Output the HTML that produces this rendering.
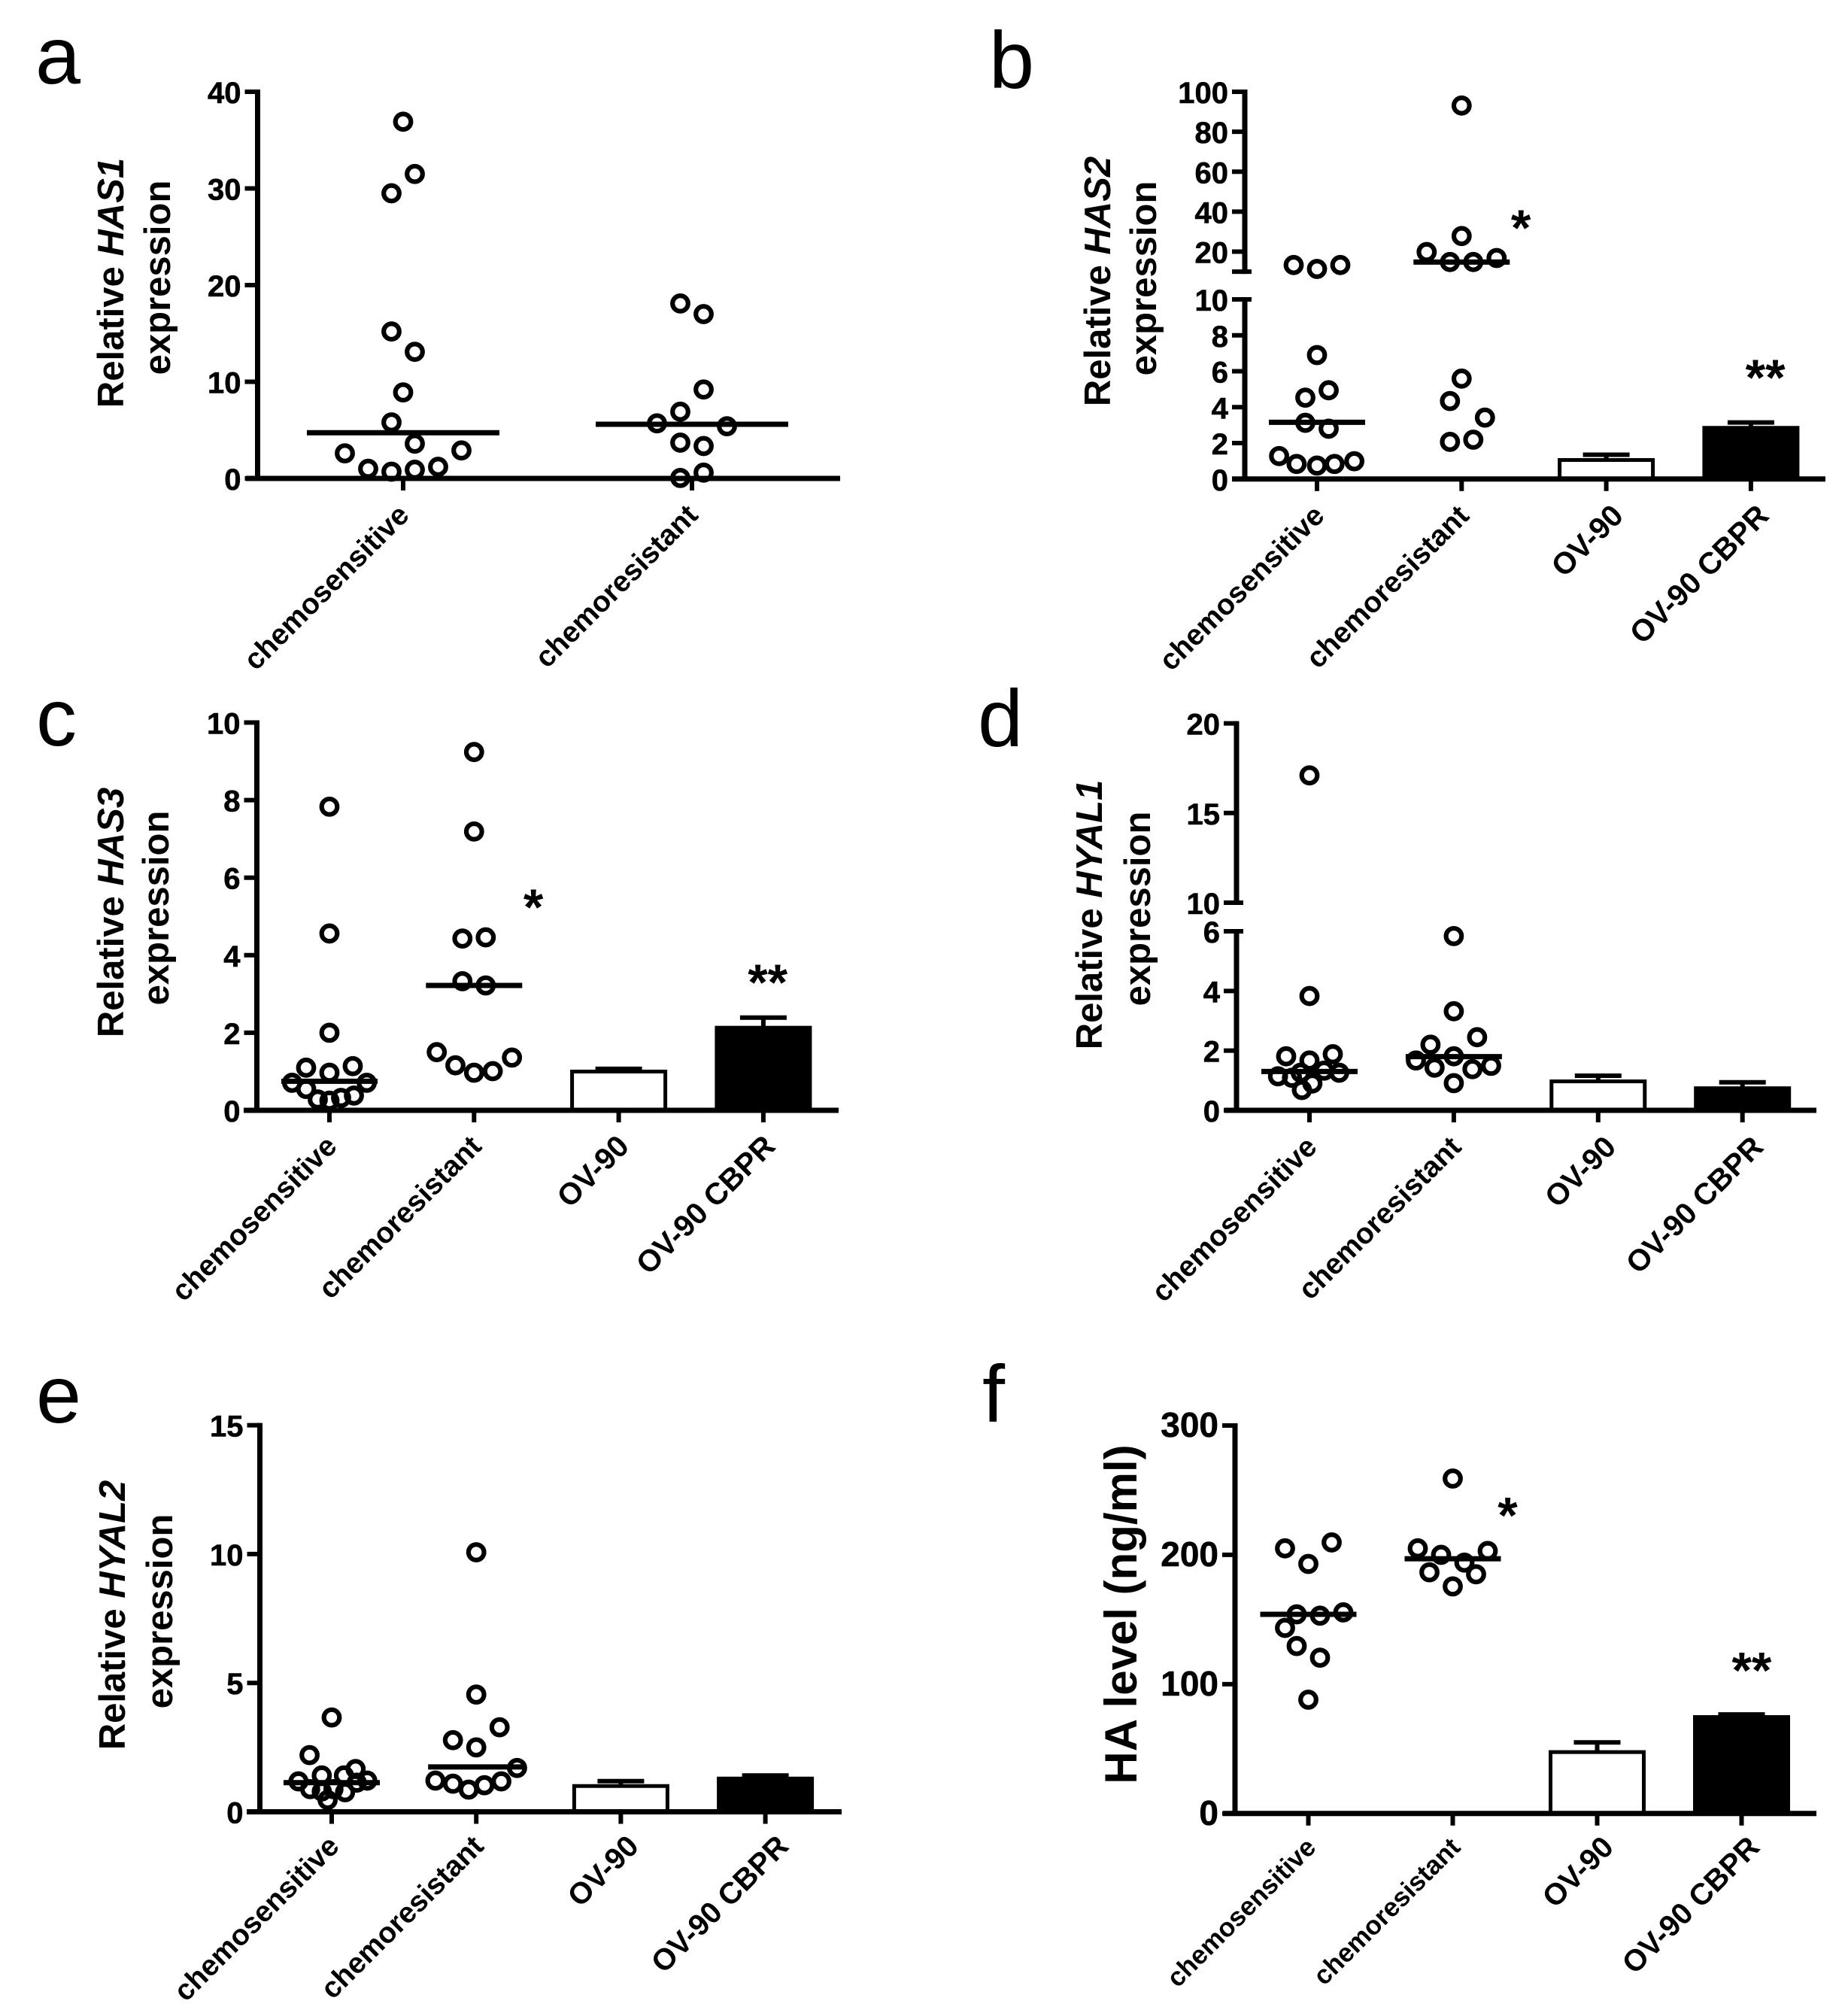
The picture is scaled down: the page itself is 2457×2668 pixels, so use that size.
<!DOCTYPE html>
<html lang="en">
<head>
<meta charset="utf-8">
<title>Hyaluronan synthase and hyaluronidase expression panels</title>
<style>
html,body{margin:0;padding:0;background:#fff;}
svg{display:block;}
text{font-family:"Liberation Sans",sans-serif;fill:#000;}
.tick-label{font-weight:700;font-size:40px;text-anchor:end;stroke:#000;stroke-width:0.6px;}
.x-label{font-weight:700;text-anchor:end;}
.title{font-weight:700;text-anchor:middle;}
.letter{font-size:108px;}
.star{font-size:68px;font-weight:700;text-anchor:middle;}
</style>
</head>
<body>
<svg id="figure" xmlns="http://www.w3.org/2000/svg" width="2457" height="2668" viewBox="0 0 2457 2668">
<rect x="0" y="0" width="2457" height="2668" fill="#fff"></rect>
</svg>
<script>
const categories = ['chemosensitive', 'chemoresistant', 'OV-90', 'OV-90 CBPR'];
const patientCategories = ['chemosensitive', 'chemoresistant'];

// Panel a: HAS1
const has1Sensitive = [36.9, 31.5, 29.5, 15.2, 13.1, 8.9, 5.8, 3.6, 2.6, 2.9, 1.0, 0.7, 0.9, 1.2];
const has1SensitiveSwarm = [0, 1, -1, -1, 1, 0, -1, 1, -5, 5, -3, -1, 1, 3];
const has1Resistant = [18.1, 17.0, 9.2, 6.9, 5.7, 5.4, 3.7, 3.35, 0.6, 0.05];
const has1ResistantSwarm = [-1, 1, 1, -1, -3, 3, -1, 1, 1, -1];
const has1Medians = [4.73, 5.6];
const has1Ticks = [0, 10, 20, 30, 40];

// Panel b: HAS2
const has2Sensitive = [13.3, 11.35, 13.3, 6.9, 4.94, 4.53, 3.13, 2.8, 1.28, 0.84, 0.75, 0.84, 0.99];
const has2SensitiveSwarm = [-2, 0, 2, 0, 1, -1, -1, 1, -3.25, -1.75, 0, 1.5, 3.2];
const has2Resistant = [93.1, 27.8, 19.8, 14.8, 14.8, 16.8, 5.59, 4.34, 3.42, 2.19, 2.07];
const has2ResistantSwarm = [0, 0, -3, -1, 1, 3, 0, -1, 2, 1, -1];
const has2Medians = [3.16, 14.8];
const has2Bars = [1.06, 2.85];
const has2Errors = [1.35, 3.15];
const has2LowerTicks = [0, 2, 4, 6, 8, 10];
const has2UpperTicks = [10, 20, 40, 60, 80, 100];
const has2UpperLabels = ['', '20', '40', '60', '80', '100'];
const has2StarCats = [1.41, 3.1];
const has2StarValues = [36, 6.1];
const has2StarLabels = ['*', '**'];

// Panel c: HAS3
const has3Sensitive = [7.83, 4.56, 2.0, 1.1, 0.97, 1.14, 0.71, 0.71, 0.55, 0.38, 0.32, 0.28, 0.25];
const has3SensitiveSwarm = [0, 0, 0, -2, 0, 2, -3.2, 3.2, -2, 2.1, 1, -1, 0];
const has3Resistant = [9.24, 7.19, 4.43, 4.46, 3.33, 3.22, 1.5, 1.16, 0.97, 1.01, 1.36];
const has3ResistantSwarm = [0, 0, -1, 1, -1, 1, -3.2, -1.6, 0, 1.6, 3.25];
const has3Medians = [0.75, 3.22];
const has3Bars = [1.0, 2.13];
const has3Errors = [1.07, 2.39];
const has3Ticks = [0, 2, 4, 6, 8, 10];
const has3StarCats = [1.41, 3.03];
const has3StarValues = [5.45, 3.51];
const has3StarLabels = ['*', '**'];

// Panel d: HYAL1
const hyal1Sensitive = [17.1, 3.83, 1.81, 1.88, 1.67, 1.14, 1.09, 1.33, 1.26, 1.26, 0.9, 0.68];
const hyal1SensitiveSwarm = [0, 0, -2, 2, 0, -2.7, -1.5, 1.25, 2.55, -0.75, 0.25, -0.65];
const hyal1Resistant = [5.84, 3.32, 2.45, 2.2, 1.81, 1.67, 1.43, 1.38, 1.49, 0.91];
const hyal1ResistantSwarm = [0, 0, 2, -2, 0, -3.25, -1.65, 1.6, 3.2, 0];
const hyal1Medians = [1.3, 1.8];
const hyal1Bars = [0.97, 0.74];
const hyal1Errors = [1.16, 0.94];
const hyal1LowerTicks = [0, 2, 4, 6];
const hyal1UpperTicks = [10, 15, 20];

// Panel e: HYAL2
const hyal2Sensitive = [3.66, 2.2, 1.66, 1.41, 1.41, 1.18, 1.21, 1.13, 0.88, 0.88, 0.79, 0.76, 0.46];
const hyal2SensitiveSwarm = [0, -1.9, 2.05, -0.85, 1.05, -2.85, 3.05, 2.15, -1.85, 0.15, -0.85, 1.15, -0.35];
const hyal2Resistant = [10.07, 4.55, 3.28, 2.78, 2.5, 1.7, 1.21, 1.09, 0.86, 1.03, 1.18];
const hyal2ResistantSwarm = [0, 0, 2, -2, 0, 3.5, -3.5, -2, -0.65, 0.7, 2.15];
const hyal2Medians = [1.13, 1.74];
const hyal2Bars = [1.0, 1.29];
const hyal2Errors = [1.19, 1.41];
const hyal2Ticks = [0, 5, 10, 15];

// Panel f: HA level
const haSensitive = [209.6, 205, 193, 154, 153, 155.5, 143.5, 129.5, 120.5, 88];
const haSensitiveSwarm = [2, -2, 0, -1, 1, 3, -2, -1, 1, 0];
const haResistant = [259, 205, 203, 200, 194, 186.5, 185, 175.6];
const haResistantSwarm = [0, -3, 3, -1, 1, -2, 2, 0];
const haMedians = [154, 197];
const haBars = [47.5, 74.6];
const haErrors = [55, 76.6];
const haTicks = [0, 100, 200, 300];
const haStarCats = [1.38, 3.07];
const haStarValues = [237, 117];
const haStarLabels = ['*', '**'];

const NS = 'http://www.w3.org/2000/svg';
const SWARM_STEP = 15.5;
const root = document.getElementById('figure');

function make(tag, attrs, parent) {
  const node = document.createElementNS(NS, tag);
  for (const key in attrs) node.setAttribute(key, attrs[key]);
  parent.appendChild(node);
  return node;
}

function linearScale(d0, d1, r0, r1) {
  return function (v) { return r0 + (v - d0) * (r1 - r0) / (d1 - d0); };
}

function drawPanel(p) {
  const g = make('g', {}, root);
  
  

  const lower = linearScale(p.lowerDomain[0], p.lowerDomain[1], p.lowerRange[0], p.lowerRange[1]);
  const upper = p.upperDomain ? linearScale(p.upperDomain[0], p.upperDomain[1], p.upperRange[0], p.upperRange[1]) : null;
  const y = function (v) { return (upper && v > p.lowerDomain[1]) ? upper(v) : lower(v); };
  const x = function (c) { return p.xStart + c * p.xStep; };

  const letter = make('text', { x: p.letterX, y: p.letterY, class: 'letter' }, g);
  
  
  letter.textContent = p.id;

  // Y axis segments
  const lowerAxis = make('line', { x1: p.axisX, x2: p.axisX, y1: p.lowerRange[0], y2: p.lowerRange[1] - 3, stroke: '#000', 'stroke-width': 7 }, g);
  
  
  if (upper) {
    const upperAxis = make('line', { x1: p.axisX, x2: p.axisX, y1: upper(p.upperTicks[0]) + 3, y2: p.upperRange[1] - 3, stroke: '#000', 'stroke-width': 7 }, g);
    
    
  }

  function drawTick(v, label, scale, isBreak) {
    const py = scale(v);
    const tick = make('line', { x1: p.axisX - 17, x2: p.axisX + (isBreak ? 9 : 0), y1: py, y2: py, stroke: '#000', 'stroke-width': 6 }, g);
    
    
    if (label !== '') {
      const t = make('text', { x: p.axisX - 22, y: py + 15, class: 'tick-label', style: 'font-size:' + p.tickSize + 'px' }, g);
      
      
      t.textContent = label;
    }
  }
  p.lowerTicks.forEach(function (v, i) {
    const top = upper && i === p.lowerTicks.length - 1;
    drawTick(v, String(v), lower, top);
  });
  if (upper) {
    p.upperTicks.forEach(function (v, i) {
      drawTick(v, p.upperLabels[i], upper, i === 0);
    });
  }

  // Bars behind axis
  p.bars.forEach(function (v, i) {
    const c = i + 2;
    const cx = x(c);
    const err = make('line', { x1: cx, x2: cx, y1: y(v), y2: y(p.errors[i]), stroke: '#000', 'stroke-width': 6 }, g);
    
    
    const cap = make('line', { x1: cx - 31, x2: cx + 31, y1: y(p.errors[i]), y2: y(p.errors[i]), stroke: '#000', 'stroke-width': 6 }, g);
    
    
    const bar = make('rect', { x: cx - 62, y: y(v), width: 124, height: lower(0) - y(v), fill: i === 0 ? '#fff' : '#000', stroke: '#000', 'stroke-width': 5 }, g);
    
    
  });

  // X axis
  const xAxis = make('line', { x1: p.xAxisStart, x2: p.xAxisEnd, y1: lower(0), y2: lower(0), stroke: '#000', 'stroke-width': 7 }, g);
  
  

  p.cats.forEach(function (name, i) {
    const cx = x(i);
    const tick = make('line', { x1: cx, x2: cx, y1: lower(0), y2: lower(0) + 16, stroke: '#000', 'stroke-width': 6 }, g);
    
    
    const ax = cx + 12 + p.labelShift[i];
    const ay = lower(0) + p.labelDrop;
    const t = make('text', { x: ax, y: ay, class: 'x-label', style: 'font-size:' + p.labelSizes[i] + 'px', transform: 'rotate(-45 ' + ax + ' ' + ay + ')' }, g);
    
    
    t.textContent = name;
  });

  // Points
  p.series.forEach(function (s, c) {
    s.values.forEach(function (v, i) {
      const pt = make('circle', { cx: x(c) + s.swarm[i] * SWARM_STEP, cy: y(v), r: 10.3, fill: 'none', stroke: '#000', 'stroke-width': 6.2 }, g);
      
      
    });
    const m = make('line', { x1: x(c) - p.medianHalf, x2: x(c) + p.medianHalf, y1: y(p.medians[c]), y2: y(p.medians[c]), stroke: '#000', 'stroke-width': 7 }, g);
    
    
  });

  // Significance stars
  p.starCats.forEach(function (c, i) {
    const st = make('text', { x: x(c), y: y(p.starValues[i]) + 34, class: 'star' }, g);
    
    
    st.textContent = p.starLabels[i];
  });

  // Titles
  p.titles.forEach(function (tl) {
    const t = make('text', { class: 'title', style: 'font-size:' + tl.size + 'px', transform: 'translate(' + tl.x + ' ' + tl.y + ') rotate(-90)' }, g);
    
    
    const a = make('tspan', {}, t);
    a.textContent = tl.text;
    if (tl.italic) {
      const b = make('tspan', { 'font-style': 'italic' }, t);
      b.textContent = tl.italic;
    }
  });
}

const panels = [
  { id: 'a', letterX: 47, letterY: 111, axisX: 342.5, xStart: 536, xStep: 384, xAxisStart: 327, xAxisEnd: 1117,
    lowerDomain: [0, 40], lowerRange: [636, 122], lowerTicks: has1Ticks, cats: patientCategories, labelSizes: [38.8, 38.8], labelShift: [-2, -2], labelDrop: 51, tickSize: 40, medianHalf: 128,
    series: [{ values: has1Sensitive, swarm: has1SensitiveSwarm }, { values: has1Resistant, swarm: has1ResistantSwarm }],
    medians: has1Medians, bars: [], errors: [], starCats: [], starValues: [], starLabels: [],
    titles: [{ text: 'Relative ', italic: 'HAS1', x: 164, y: 376, size: 49 }, { text: 'expression', x: 226, y: 369, size: 49 }] },
  { id: 'b', letterX: 1315, letterY: 117, axisX: 1655, xStart: 1751, xStep: 192.3, xAxisStart: 1638, xAxisEnd: 2427,
    lowerDomain: [0, 10], lowerRange: [636.8, 398], upperDomain: [20, 100], upperRange: [334.5, 122], lowerTicks: has2LowerTicks, upperTicks: has2UpperTicks, upperLabels: has2UpperLabels,
    cats: categories, labelSizes: [38.8, 38.8, 40.5, 40.5], labelShift: [0, 0, 13, 14], labelDrop: 51, tickSize: 40, medianHalf: 64,
    series: [{ values: has2Sensitive, swarm: has2SensitiveSwarm }, { values: has2Resistant, swarm: has2ResistantSwarm }],
    medians: has2Medians, bars: has2Bars, errors: has2Errors, starCats: has2StarCats, starValues: has2StarValues, starLabels: has2StarLabels,
    titles: [{ text: 'Relative ', italic: 'HAS2', x: 1476, y: 374, size: 49 }, { text: 'expression', x: 1537, y: 370, size: 49 }] },
  { id: 'c', letterX: 48, letterY: 991, axisX: 341.5, xStart: 438, xStep: 192.3, xAxisStart: 324, xAxisEnd: 1115,
    lowerDomain: [0, 10], lowerRange: [1476, 960.5], lowerTicks: has3Ticks, cats: categories, labelSizes: [38.8, 38.8, 40.5, 40.5], labelShift: [0, 0, 4, 6], labelDrop: 50, tickSize: 40, medianHalf: 64,
    series: [{ values: has3Sensitive, swarm: has3SensitiveSwarm }, { values: has3Resistant, swarm: has3ResistantSwarm }],
    medians: has3Medians, bars: has3Bars, errors: has3Errors, starCats: has3StarCats, starValues: has3StarValues, starLabels: has3StarLabels,
    titles: [{ text: 'Relative ', italic: 'HAS3', x: 164, y: 1213, size: 49 }, { text: 'expression', x: 224, y: 1207, size: 49 }] },
  { id: 'd', letterX: 1300, letterY: 992, axisX: 1644, xStart: 1741, xStep: 191.9, xAxisStart: 1628, xAxisEnd: 2415,
    lowerDomain: [0, 6], lowerRange: [1476, 1238], upperDomain: [10, 20], upperRange: [1200, 961.6], lowerTicks: hyal1LowerTicks, upperTicks: hyal1UpperTicks, upperLabels: hyal1UpperTicks.map(String),
    cats: categories, labelSizes: [38.8, 38.8, 40, 40], labelShift: [0, 0, 14, 18], labelDrop: 51, tickSize: 40, medianHalf: 64,
    series: [{ values: hyal1Sensitive, swarm: hyal1SensitiveSwarm }, { values: hyal1Resistant, swarm: hyal1ResistantSwarm }],
    medians: hyal1Medians, bars: hyal1Bars, errors: hyal1Errors, starCats: [], starValues: [], starLabels: [],
    titles: [{ text: 'Relative ', italic: 'HYAL1', x: 1465, y: 1216, size: 49 }, { text: 'expression', x: 1529, y: 1208, size: 49 }] },
  { id: 'e', letterX: 48, letterY: 1891, axisX: 345.5, xStart: 441, xStep: 192.2, xAxisStart: 328, xAxisEnd: 1119,
    lowerDomain: [0, 15], lowerRange: [2408.5, 1894.6], lowerTicks: hyal2Ticks, cats: categories, labelSizes: [38.8, 38.8, 40, 40], labelShift: [0, 0, 14, 21], labelDrop: 48, tickSize: 40, medianHalf: 64,
    series: [{ values: hyal2Sensitive, swarm: hyal2SensitiveSwarm }, { values: hyal2Resistant, swarm: hyal2ResistantSwarm }],
    medians: hyal2Medians, bars: hyal2Bars, errors: hyal2Errors, starCats: [], starValues: [], starLabels: [],
    titles: [{ text: 'Relative ', italic: 'HYAL2', x: 166, y: 2147, size: 49 }, { text: 'expression', x: 229, y: 2142, size: 49 }] },
  { id: 'f', letterX: 1306, letterY: 1890, axisX: 1642, xStart: 1739.5, xStep: 192, xAxisStart: 1626, xAxisEnd: 2415,
    lowerDomain: [0, 300], lowerRange: [2410.8, 1895], lowerTicks: haTicks, cats: categories, labelSizes: [35, 35, 40, 40], labelShift: [0, 0, 12, 14], labelDrop: 47, tickSize: 46, medianHalf: 64,
    series: [{ values: haSensitive, swarm: haSensitiveSwarm }, { values: haResistant, swarm: haResistantSwarm }],
    medians: haMedians, bars: haBars, errors: haErrors, starCats: haStarCats, starValues: haStarValues, starLabels: haStarLabels,
    titles: [{ text: 'HA level (ng/ml)', x: 1511, y: 2146, size: 60 }] }
];

panels.forEach(drawPanel);
</script>
</body>
</html>
